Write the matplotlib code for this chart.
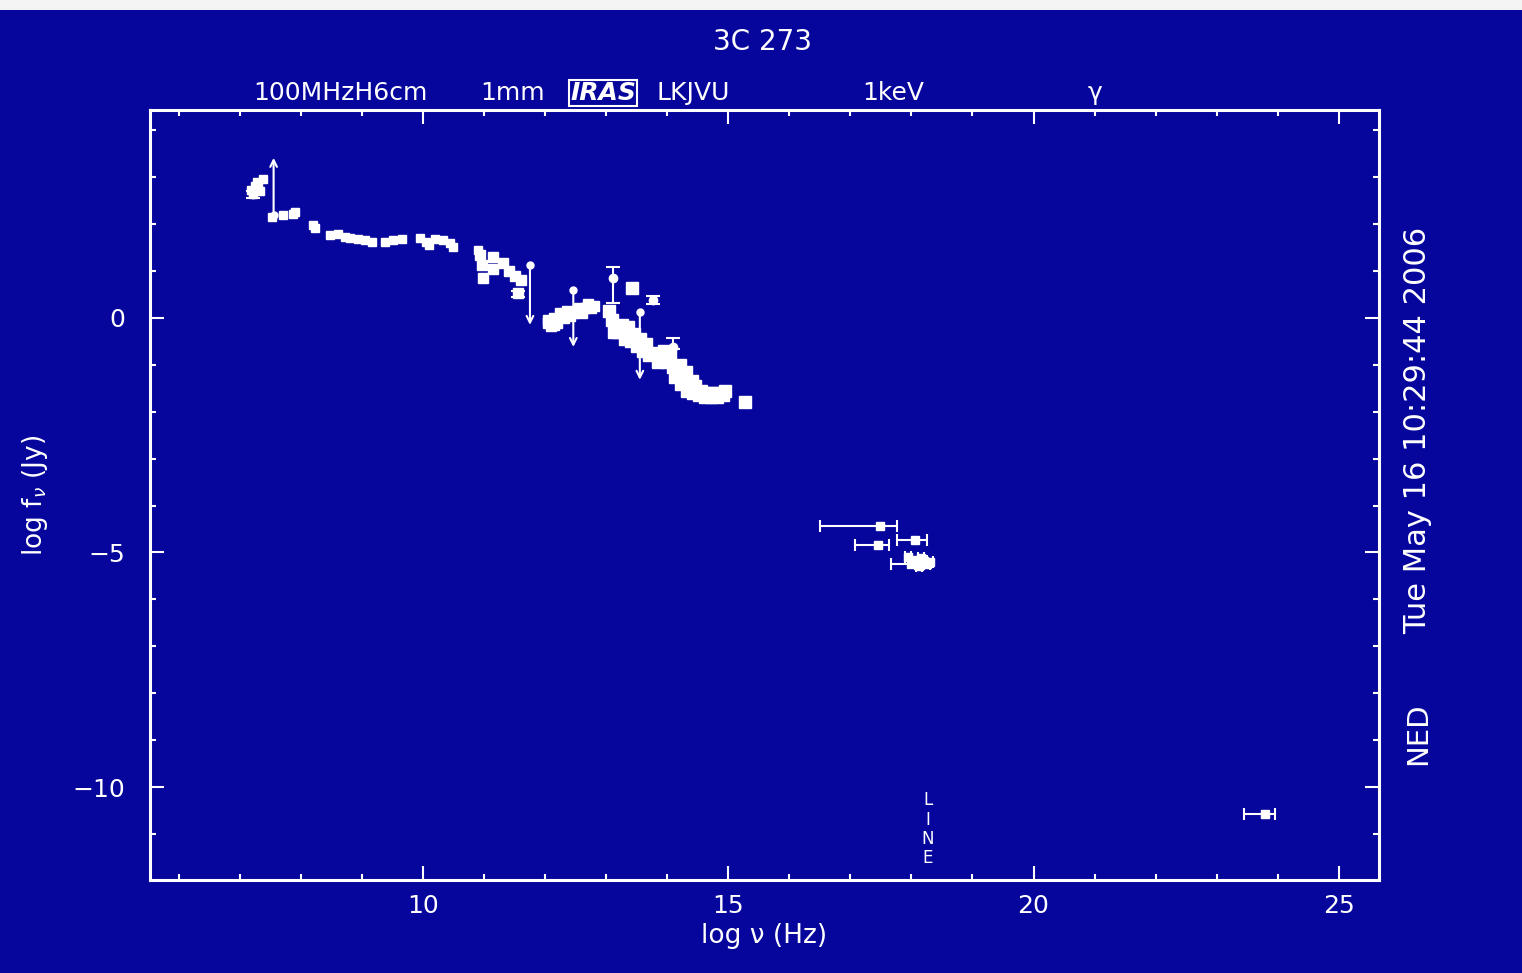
import matplotlib
matplotlib.use("Agg")
import matplotlib.pyplot as plt
import matplotlib.transforms as mtransforms

BG = "#06069c"
FG = "white"

# ---- data (log nu [Hz], log f_nu [Jy]) ----
radio_x = [7.18, 7.25, 7.30, 7.38, 7.22, 7.33, 7.27, 7.53, 7.71, 7.86, 7.90,
           8.20, 8.23, 8.48, 8.60, 8.72, 8.80, 8.94, 9.05, 9.17, 9.38,
           9.51, 9.66, 9.95, 10.05, 10.10, 10.20, 10.33, 10.44, 10.49, 10.90]
radio_y = [2.72, 2.80, 2.85, 2.95, 2.65, 2.70, 2.90, 2.15, 2.20, 2.22, 2.26,
           1.98, 1.92, 1.77, 1.78, 1.73, 1.70, 1.68, 1.66, 1.62, 1.62,
           1.66, 1.68, 1.70, 1.62, 1.55, 1.68, 1.66, 1.60, 1.52, 1.45]

mm_x = [10.93, 10.97, 10.98, 11.15, 11.15, 11.31, 11.40, 11.50, 11.60, 11.56,
        12.05, 12.15, 12.25, 12.35, 12.45, 12.55, 12.65, 12.75, 12.15, 12.05,
        12.20, 12.30, 12.40, 12.60, 12.70, 12.80, 12.10]
mm_y = [1.34, 1.13, 0.85, 1.30, 1.05, 1.17, 1.00, 0.90, 0.80, 0.53,
        -0.10, 0.00, 0.10, 0.15, 0.10, 0.20, 0.20, 0.20, -0.15, -0.05,
        -0.12, 0.00, 0.05, 0.10, 0.30, 0.25, -0.18]

ir_x = [13.04, 13.10, 13.12, 13.20, 13.30, 13.40, 13.50, 13.60, 13.70, 13.80,
        13.90, 14.00, 14.10, 14.15, 14.25, 14.35, 14.45, 14.55, 14.65, 14.75,
        14.85, 14.95, 13.42, 15.27, 13.35, 13.65, 14.05, 14.20, 14.30, 14.40,
        13.25, 13.45, 13.55, 13.85, 13.95, 14.12, 14.22, 14.32, 14.42, 14.52,
        14.62, 14.72, 14.82, 14.92]
ir_y = [0.15, -0.05, -0.30, -0.30, -0.45, -0.50, -0.60, -0.70, -0.80, -0.75,
        -0.85, -0.95, -1.05, -1.20, -1.30, -1.40, -1.45, -1.55, -1.60, -1.60,
        -1.60, -1.55, 0.64, -1.79, -0.20, -0.55, -0.80, -1.00, -1.15, -1.35,
        -0.15, -0.35, -0.45, -0.95, -0.70, -1.25, -1.42, -1.55, -1.60, -1.65,
        -1.68, -1.68, -1.68, -1.65]

# vertical error bars (x, y, lower, upper)
verr_x = [13.11, 13.76, 14.09, 11.56, 7.22]
verr_y = [0.85, 0.38, -0.62, 0.53, 2.65]
verr_lo = [0.53, 0.08, 0.05, 0.08, 0.10]
verr_hi = [0.24, 0.08, 0.20, 0.05, 0.05]

# limits: (x, start y, end y)
lim_x = [7.55, 11.75, 12.46, 13.55]
lim_y0 = [2.20, 1.13, 0.60, 0.13]
lim_y1 = [3.41, -0.15, -0.62, -1.32]

# X-ray / gamma with horizontal error bars
xr_x = [17.48, 17.45, 18.05, 18.00, 17.95, 18.05, 18.10, 18.15, 18.20, 18.25, 18.30, 18.12, 23.80]
xr_y = [-4.43, -4.84, -4.73, -5.25, -5.10, -5.15, -5.20, -5.12, -5.18, -5.25, -5.20, -5.28, -10.58]
xr_lo = [0.98, 0.38, 0.29, 0.33, 0.05, 0.05, 0.05, 0.05, 0.05, 0.05, 0.05, 0.05, 0.35]
xr_hi = [0.28, 0.19, 0.20, 0.05, 0.05, 0.05, 0.05, 0.05, 0.05, 0.05, 0.05, 0.05, 0.16]

band_labels = ["100MHzH6cm", "1mm", "IRAS", "LKJVU", "1keV", "\u03b3"]
band_x = [8.64, 11.47, 12.95, 14.42, 17.71, 21.0]

x_ticks = [10, 15, 20, 25]
y_ticks = [0, -5, -10]

# ---- figure ----
fig = plt.figure(figsize=(15.22, 9.73), dpi=100, facecolor=BG)
ax = fig.add_axes([150/1522, 1-880/973, (1379-150)/1522, (880-110)/973])
ax.set_facecolor(BG)
ax.set_xlim(5.525, 25.66)
ax.set_ylim(-11.98, 4.43)

for s in ax.spines.values():
    s.set_color(FG)
    s.set_linewidth(2.2)

ax.set_xticks(x_ticks)
ax.set_xticklabels([str(t) for t in x_ticks])
ax.set_yticks(y_ticks)
ax.set_yticklabels(["0", "\u22125", "\u221210"])
ax.set_xticks(range(6, 26), minor=True)
ax.set_yticks(range(-11, 5), minor=True)
ax.tick_params(which="both", direction="in", colors=FG, top=True, right=True, width=1.5)
ax.tick_params(which="major", length=10, labelsize=18, labelcolor=FG)
ax.tick_params(axis="x", which="major", pad=10)
ax.tick_params(axis="y", which="major", pad=18)
ax.tick_params(which="minor", length=4.5)

ms = 6
ax.plot(radio_x, radio_y, "s", color=FG, ms=ms, mec=FG)
ax.plot(mm_x, mm_y, "s", color=FG, ms=ms + 1, mec=FG)
ax.plot(ir_x, ir_y, "s", color=FG, ms=ms + 2, mec=FG)
ax.errorbar(verr_x, verr_y, yerr=[verr_lo, verr_hi], fmt="o", color=FG, ms=ms,
            capsize=5, elinewidth=1.5, capthick=1.5)
ax.errorbar(xr_x, xr_y, xerr=[xr_lo, xr_hi], fmt="s", color=FG, ms=ms,
            capsize=4, elinewidth=1.5, capthick=1.5)

for x, y0, y1 in zip(lim_x, lim_y0, lim_y1):
    ax.plot([x], [y0], "o", color=FG, ms=5)
    ax.annotate("", xy=(x, y1), xytext=(x, y0),
                arrowprops=dict(arrowstyle="->", color=FG, lw=1.5,
                                mutation_scale=12, shrinkA=0, shrinkB=0))

# band labels above axes
trans = mtransforms.blended_transform_factory(ax.transData, ax.transAxes)
for lab, bx in zip(band_labels, band_x):
    if lab == "IRAS":
        ax.text(bx, 1.022, lab, transform=trans, ha="center", va="center",
                color=FG, fontsize=18, style="italic", fontweight="bold",
                bbox=dict(boxstyle="square,pad=0.05", fc=BG, ec=FG, lw=1.5),
                clip_on=False)
    else:
        ax.text(bx, 1.022, lab, transform=trans, ha="center", va="center",
                color=FG, fontsize=18, clip_on=False)

ax.text(18.27, -10.9, "L\nI\nN\nE", ha="center", va="center", color=FG,
        fontsize=12, linespacing=1.1)

fig.text(763/1522, 1-42/973, "3C 273", ha="center", va="center", color=FG, fontsize=20)
ax.set_xlabel("log \u03bd (Hz)", color=FG, fontsize=19, labelpad=4)
ax.set_ylabel("log f$_{\\nu}$ (Jy)", color=FG, fontsize=19, labelpad=16)
fig.text(1418/1522, 1-430/973, "Tue May 16 10:29:44 2006", rotation=90,
         ha="center", va="center", color=FG, fontsize=22)
fig.text(1418/1522, 1-734/973, "NED", rotation=90, ha="center", va="center",
         color=FG, fontsize=21)

# light strip at top of the screenshot
fig.patches.append(plt.Rectangle((0, 1-10/973), 1, 10/973, transform=fig.transFigure,
                                 fc="#f4f4f4", ec="none"))

fig.savefig("out.png", dpi=100, facecolor=BG)
